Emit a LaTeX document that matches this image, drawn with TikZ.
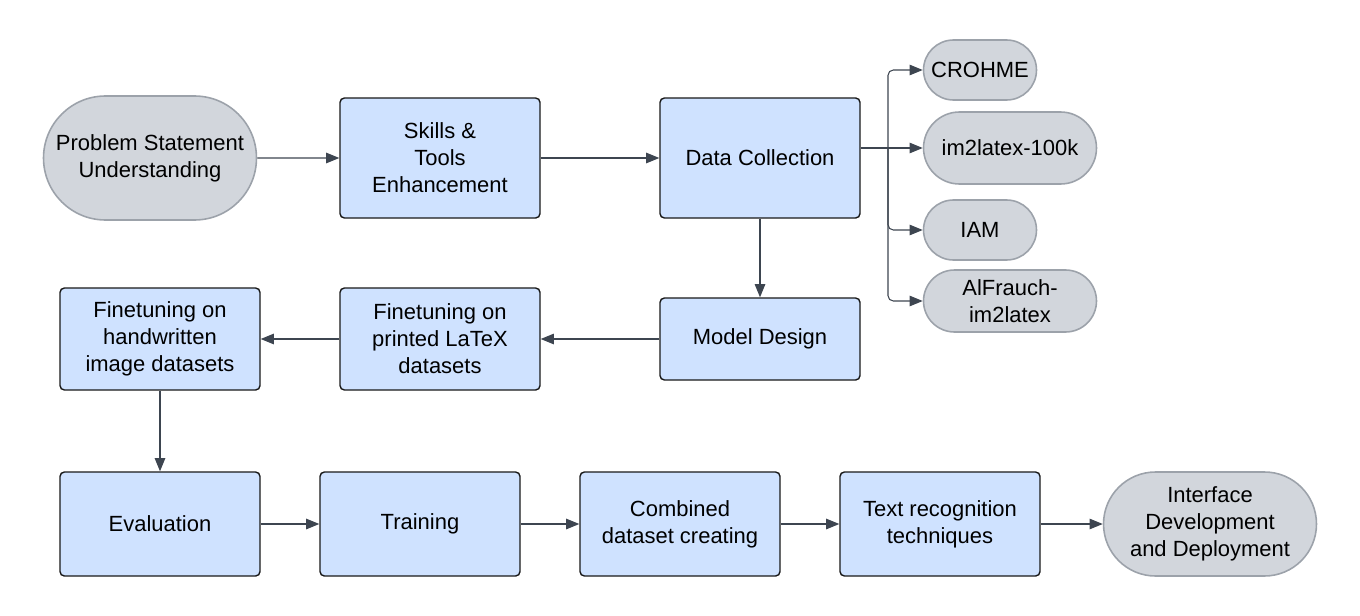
\documentclass[tikz,border=0pt]{standalone}
\usepackage{fontspec}
\setmainfont{Liberation Sans}
\usetikzlibrary{arrows.meta,shapes.misc}

\definecolor{boxblue}{HTML}{CFE2FF}
\definecolor{pillgray}{HTML}{D2D6DC}
\definecolor{pilledge}{HTML}{9CA2AA}
\definecolor{arrowgray}{HTML}{3D4550}

\begin{document}
\begin{tikzpicture}[
  font=\fontsize{12.5}{15.4}\selectfont,
  stepbox/.style={draw=black!90, fill=boxblue, line width=0.8pt, rounded corners=2.5pt,
    minimum width=4cm, align=center, inner sep=2pt},
  pill/.style={rounded rectangle, draw=pilledge, fill=pillgray, line width=0.9pt,
    align=center, inner sep=2pt},
  arr/.style={draw=arrowgray, line width=0.6pt, -{Triangle[length=7.5pt,width=6pt]}}
]

\useasboundingbox (0,0) rectangle (27.2,-12.3);

\node[pill, minimum width=4.4cm, minimum height=2.48cm] (problem) at (3.0,-3.16) {Problem Statement\\Understanding};

\node[stepbox, minimum height=2.4cm] (skills) at (8.8,-3.16) {Skills \&\\Tools\\Enhancement};

\node[stepbox, minimum height=2.4cm] (data) at (15.2,-3.16) {Data Collection};


\node[pill, minimum width=2.4cm, minimum height=1.2cm] (crohme) at (19.6,-1.4) {CROHME};

\node[pill, minimum width=3.6cm, minimum height=1.44cm] (imk) at (20.2,-2.96) {im2latex-100k};

\node[pill, minimum width=2.4cm, minimum height=1.2cm] (iam) at (19.6,-4.6) {IAM};

\node[pill, minimum width=3.6cm, minimum height=1.24cm] (alf) at (20.2,-6.02) {AlFrauch-\\im2latex};

\coordinate (br) at (17.76,-2.96);


\node[stepbox, minimum height=1.64cm] (model) at (15.2,-6.78) {Model Design};

\node[stepbox, minimum height=2.04cm] (printed) at (8.8,-6.78) {Finetuning on\\printed LaTeX\\datasets};

\node[stepbox, minimum height=2.04cm] (hand) at (3.2,-6.78) {Finetuning on\\handwritten\\image datasets};


\node[stepbox, minimum height=2.08cm] (eval) at (3.2,-10.48) {Evaluation};

\node[stepbox, minimum height=2.08cm] (train) at (8.4,-10.48) {Training};

\node[stepbox, minimum height=2.08cm] (comb) at (13.6,-10.48) {Combined\\dataset creating};

\node[stepbox, minimum height=2.08cm] (textrec) at (18.8,-10.48) {Text recognition\\techniques};

\node[pill, minimum width=4.4cm, minimum height=2.08cm] (iface) at (24.2,-10.48) {Interface\\Development\\and Deployment};


\draw[arr] (problem) -- (skills);

\draw[arr] (skills) -- (data);

\draw[arr] (data.east |- imk.west) -- (imk.west);

\draw[arr, rounded corners=3pt] (br) |- (crohme.west);

\draw[arr, rounded corners=3pt] (br) |- (iam.west);

\draw[arr, rounded corners=3pt] (br) |- (alf.west);

\draw[arr] (data) -- (model);

\draw[arr] (model) -- (printed);

\draw[arr] (printed) -- (hand);

\draw[arr] (hand) -- (eval);

\draw[arr] (eval) -- (train);

\draw[arr] (train) -- (comb);

\draw[arr] (comb) -- (textrec);

\draw[arr] (textrec) -- (iface);

\end{tikzpicture}
\end{document}
